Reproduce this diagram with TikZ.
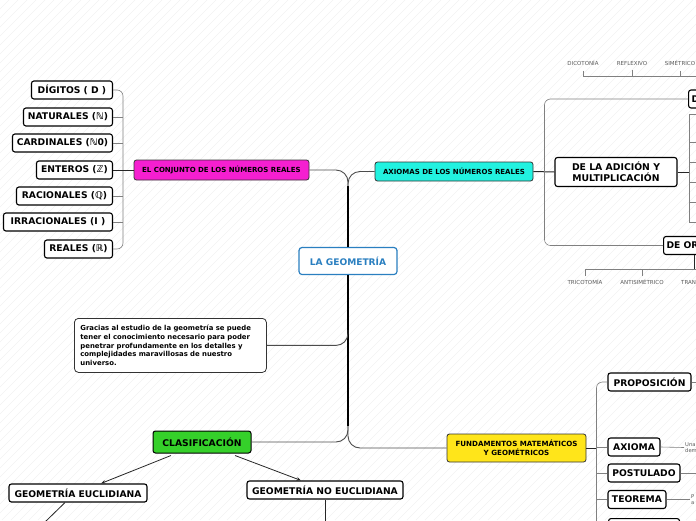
\documentclass[tikz,border=0pt]{standalone}
\usepackage{fontspec}
\setmainfont{DejaVu Sans}
\usetikzlibrary{arrows.meta,positioning,calc}
\definecolor{rosa}{HTML}{F51FD0}
\definecolor{turquesa}{HTML}{22F2E0}
\definecolor{verde}{HTML}{35D02A}
\definecolor{amarillo}{HTML}{FFE51A}
\definecolor{azulgeo}{HTML}{2A7FC0}
\newcommand{\fs}[1]{\fontsize{#1}{1.2\dimexpr#1pt\relax}\selectfont}

\begin{document}
\begin{tikzpicture}[x=1pt,y=-1pt,>={Stealth[length=4.5pt,width=3.5pt]},
  caja/.style={draw=black,line width=1.1pt,rounded corners=2.5pt,fill=white,
    minimum height=18pt,inner xsep=3pt,inner ysep=2pt,font=\fs{9.2}\bfseries},
  hoja/.style={caja,anchor=east},
  tema/.style={draw=black!80,line width=0.8pt,rounded corners=2.5pt,
    minimum height=20pt,inner xsep=4pt,font=\fs{7}\bfseries},
  etiq/.style={font=\fs{5.5},text=black!65,inner sep=1pt},
  rama/.style={draw=black!50,line width=0.6pt,rounded corners=6pt},
  ast/.style={draw=black!70,line width=0.9pt,rounded corners=12pt},
  enlace/.style={draw=black!85,line width=1pt},
  tronco/.style={draw=black,line width=2pt}]
\useasboundingbox (0,0) rectangle (696,520);
% fondo rayado
\begin{scope}
\clip (0,0) rectangle (696,520);
\foreach \i in {-520,-511,...,700}
  \draw[black!5,line width=0.4pt] (\i,520) -- ++(520,-520);
\end{scope}

% nodo central y tronco
\node[draw=azulgeo,line width=1.2pt,rounded corners=3pt,fill=white,text=azulgeo,
  minimum width=98pt,minimum height=27pt,font=\fs{9.1}\bfseries] (geo) at (348,261) {LA GEOMETRÍA};
\coordinate (tk1) at (348,186);
\coordinate (tk3) at (348,330);
\coordinate (tk2) at (348,426);
\draw[tronco] (tk1) -- (geo.north);
\draw[tronco] (geo.south) -- (tk2);

% conjunto de los numeros reales
\node[tema,fill=rosa,minimum width=175pt] (conj) at (221.5,170) {EL CONJUNTO DE LOS NÚMEROS REALES};
\node[hoja,minimum width=81pt] (dig) at (113,90) {DÍGITOS ( D )};
\node[hoja,minimum width=89pt] (nat) at (113,117) {NATURALES (ℕ)};
\node[hoja,minimum width=100pt] (car) at (113,143) {CARDINALES (ℕ0)};
\node[hoja,minimum width=76pt] (ent) at (113,170) {ENTEROS (ℤ)};
\node[hoja,minimum width=96pt] (rac) at (113,196) {RACIONALES (ℚ)};
\node[hoja,minimum width=109pt] (irr) at (113,222) {IRRACIONALES (I )};
\node[hoja,minimum width=68pt] (rea) at (113,249) {REALES (ℝ)};
\draw[rama] (dig.east) -- ++(10,0) |- (rea.east);
\foreach \n in {nat,car,rac,irr}
  \draw[rama] (\n.east) -- ++(10,0);
\draw[enlace] (ent.east) -- (conj.west);
\draw[ast] (conj.east) -| (tk1);

% axiomas
\node[tema,fill=turquesa,minimum width=158pt,minimum height=19pt] (axi) at (454,171.5) {AXIOMAS DE LOS NÚMEROS REALES};
\draw[ast] (axi.west) -| (tk1);
\node[caja,minimum width=122pt,minimum height=29pt,align=center,font=\fontsize{9.3}{11}\selectfont\bfseries] (adi) at (616,172) {DE LA ADICIÓN Y\\MULTIPLICACIÓN};
\node[caja,anchor=west] (igu) at (688,99) {DE IGUALDAD};
\node[caja,anchor=west] (ord) at (663,245.5) {DE ORDEN};
\draw[enlace] (axi.east) -- (adi.west);
\draw[rama] (igu.west) -| ($(adi.west)+(-10,0)$) |- (ord.west);
\coordinate (b1) at (689,114);
\coordinate (b2) at (689,222);
\draw[enlace] (adi.east) -- (adi.east -| b1);
\draw[rama,rounded corners=0pt] (700,114) -- (b1) -- (b2) -- (700,222);
\foreach \y in {142,162,182,202}
  \draw[rama] (689,\y) -- (700,\y);
% propiedades de igualdad
\node[etiq] (dic) at (583,63) {DICOTONÍA};
\node[etiq] (ref) at (632,63) {REFLEXIVO};
\node[etiq] (sim) at (680,63) {SIMÉTRICO};
\coordinate (hsup) at (700,76);
\draw[rama,rounded corners=0pt] ([yshift=-4pt]dic.south) -- (dic.south |- hsup) -- (hsup);
\foreach \n in {ref,sim}
  \draw[rama,rounded corners=0pt] ([yshift=-4pt]\n.south) -- (\n.south |- hsup);
% propiedades de orden
\node[etiq] (tri) at (585,282) {TRICOTOMÍA};
\node[etiq] (ant) at (642,282) {ANTISIMÉTRICO};
\node[etiq,anchor=west] (tra) at (680,282) {TRANSITIVO};
\coordinate (hinf) at (694,269);
\draw[rama,rounded corners=0pt] ([yshift=2pt]tri.north) -- (tri.north |- hinf) -- (700,269);
\draw[rama,rounded corners=0pt] ([yshift=2pt]ant.north) -- (ant.north |- hinf);
\draw[enlace] (hinf |- ord.south) -- (hinf);

% texto
\node[draw=black!80,line width=0.8pt,rounded corners=4pt,fill=white,anchor=north west,
  text width=180pt,minimum height=54pt,inner xsep=6pt,align=left,
  font=\fontsize{6.9}{8.6}\selectfont\bfseries] (grac) at (74,318)
  {Gracias al estudio de la geometría se puede\\tener el conocimiento necesario para poder\\penetrar profundamente en los detalles y\\complejidades maravillosas de nuestro\\universo.};
\draw[ast] (grac.east) -| (tk3);

% clasificacion
\node[caja,fill=verde,minimum width=98pt,minimum height=22pt,line width=1pt] (clas) at (202,442) {CLASIFICACIÓN};
\draw[ast] (clas.east) -| (tk2);
\node[caja,minimum width=138pt] (euc) at (78,493) {GEOMETRÍA EUCLIDIANA};
\node[caja,minimum width=156pt] (noeu) at (325,490) {GEOMETRÍA NO EUCLIDIANA};
\draw[->,black!85,line width=0.8pt] ($(clas.south)+(-31,2)$) -- ($(euc.north)+(23,0)$);
\draw[->,black!85,line width=0.8pt] ($(clas.south)+(33,2)$) -- ($(noeu.north)+(-24,0)$);
\coordinate (ceu) at (45,522);
\draw[black!85,line width=0.8pt] ($(euc.south)+(-13,0)$) -- (ceu);
\draw[black!85,line width=0.8pt] (noeu.south) -- (noeu.south |- ceu);

% fundamentos
\node[tema,fill=amarillo,minimum width=139pt,minimum height=28pt,align=center,
  font=\fontsize{7.1}{8.6}\selectfont\bfseries] (fund) at (516.5,448) {FUNDAMENTOS MATEMÁTICOS\\Y GEOMÉTRICOS};
\draw[ast] (fund.west) -| (tk2);
\node[caja,minimum width=83pt] (prop) at (649.5,382) {PROPOSICIÓN};
\node[caja,minimum width=52pt] (axm) at (634,447) {AXIOMA};
\node[caja,minimum width=72pt] (post) at (644,473) {POSTULADO};
\node[caja,minimum width=58pt] (teo) at (637,499.5) {TEOREMA};
\node[caja,minimum width=71pt,anchor=north west] (quin) at (608,518) {};
\draw[enlace] (fund.east) -- ++(10,0);
\draw[rama] (prop.west) -- ++(-11,0) |- (quin.west);
\foreach \n in {axm,post,teo}
  \draw[rama] (\n.west) -- ++(-11,0);
\draw[rama] (prop.east) -- ++(10,0);
\draw[rama] (post.east) -- ++(20,0);
\node[etiq,anchor=west,align=left,font=\fontsize{5.2}{6.5}\selectfont] (tax) at (684,447.5) {Una\\dem};
\node[etiq,anchor=west,align=left,font=\fontsize{5.2}{6.5}\selectfont] (tteo) at (690,499.5) {P\\a};
\draw[rama] (axm.east) -- (tax.west);
\draw[rama] (teo.east) -- (tteo.west);
\end{tikzpicture}
\end{document}
